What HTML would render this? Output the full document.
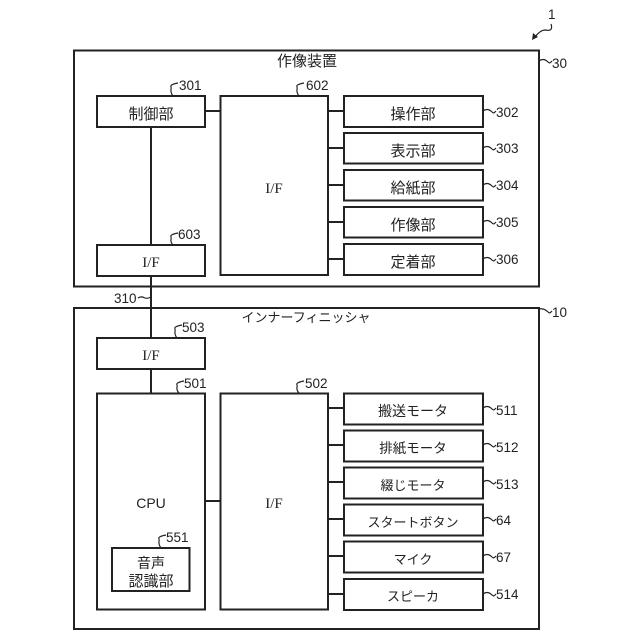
<!DOCTYPE html>
<html><head><meta charset="utf-8"><style>
html,body{margin:0;padding:0;background:#fff}
svg{display:block}
text{font-family:"Liberation Sans","Noto Sans CJK JP",sans-serif;font-size:14px;fill:#222;text-anchor:middle}
.k{font-size:15px}
.s{font-size:13px}
.m{font-size:13.5px}
.f{font-family:"Liberation Serif","Noto Sans CJK JP",serif;font-size:15px}
.n{font-size:13.5px;text-anchor:start}
rect{fill:none;stroke:#222;stroke-width:2}
path{fill:none;stroke:#222;stroke-width:1.6}
.l{stroke-width:2}
.t{stroke-width:1.2}
</style></head><body>
<svg width="640" height="640" viewBox="0 0 640 640" xmlns="http://www.w3.org/2000/svg">
<rect x="74" y="50.5" width="465" height="236"/>
<rect x="74" y="308" width="465" height="321"/>
<rect x="97" y="96" width="108" height="31"/>
<rect x="97" y="245" width="108" height="31"/>
<rect x="220.5" y="96" width="107.5" height="179"/>
<rect x="344" y="96" width="139" height="31"/>
<rect x="344" y="133" width="139" height="30.5"/>
<rect x="344" y="170" width="139" height="30.5"/>
<rect x="344" y="207" width="139" height="30.5"/>
<rect x="344" y="244" width="139" height="31"/>
<rect x="97" y="338" width="108" height="31"/>
<rect x="97" y="393.5" width="108" height="216"/>
<rect x="112" y="548" width="77.5" height="43"/>
<rect x="220.5" y="393.5" width="107.5" height="216"/>
<rect x="344" y="393.5" width="139" height="31"/>
<rect x="344" y="430.5" width="139" height="31"/>
<rect x="344" y="467.5" width="139" height="31"/>
<rect x="344" y="504.5" width="139" height="31"/>
<rect x="344" y="541.5" width="139" height="31"/>
<rect x="344" y="579" width="139" height="31"/>
<path class="l" d="M151 127V245M151 276V338M151 369V393.5M205 111H220.5M205 501H220.5M328 111H344M328 148H344M328 185H344M328 222H344M328 259H344M328 408H344M328 445H344M328 482H344M328 519H344M328 556H344M328 594H344"/>
<path class="t" d="M173 96C169 91 172 88 171 87C170 85 173 84 178 83"/>
<path class="t" d="M299 96C295 91 298 88 297 87C296 85 299 84 304 83"/>
<path class="t" d="M173 245C169 241 172 238 171 237C170 235 173 234 178 233"/>
<path class="t" d="M177 338C173 333 176 330 175 329C174 327 177 326 182 325"/>
<path class="t" d="M179 393C175 389 178 386 177 385C176 383 179 382 184 381"/>
<path class="t" d="M299 393C295 389 298 386 297 385C296 383 299 382 304 381"/>
<path class="t" d="M161 548C157 543 160 540 159 539C158 537 161 536 166 535"/>
<path class="t" d="M483 111C487 108 490 110 492 112C494 114 495 112 496 111"/>
<path class="t" d="M483 148C487 145 490 147 492 149C494 151 495 149 496 148"/>
<path class="t" d="M483 185C487 182 490 184 492 186C494 188 495 186 496 185"/>
<path class="t" d="M483 222C487 219 490 221 492 223C494 225 495 223 496 222"/>
<path class="t" d="M483 259C487 256 490 258 492 260C494 262 495 260 496 259"/>
<path class="t" d="M483 408C487 405 490 407 492 409C494 411 495 409 496 408"/>
<path class="t" d="M483 445C487 442 490 444 492 446C494 448 495 446 496 445"/>
<path class="t" d="M483 482C487 479 490 481 492 483C494 485 495 483 496 482"/>
<path class="t" d="M483 519C487 516 490 518 492 520C494 522 495 520 496 519"/>
<path class="t" d="M483 556C487 553 490 555 492 557C494 559 495 557 496 556"/>
<path class="t" d="M483 594C487 591 490 593 492 595C494 597 495 595 496 594"/>
<path class="t" d="M539 61C543 58 546 60 548 62C550 64 551 62 552 61"/>
<path class="t" d="M539 309C543 308 546 310 548 312C550 314 551 312 552 311"/>
<path class="t" d="M138 298C141 296 143 297 145 298C147 299 149 298 151 297"/>
<path class="t" d="M551 24C553 30 550 31 545 30C541 30 538 33 535 37"/>
<path d="M532 40L533 33L538 37Z" style="fill:#222;stroke:none"/>
<text class="k" x="307" y="66">作像装置</text>
<text class="k" x="151" y="119">制御部</text>
<text class="f" x="274" y="193">I/F</text>
<text class="f" x="151" y="267">I/F</text>
<text class="k" x="413" y="119">操作部</text>
<text class="k" x="413" y="156">表示部</text>
<text class="k" x="413" y="193">給紙部</text>
<text class="k" x="413" y="230">作像部</text>
<text class="k" x="413" y="267">定着部</text>
<text class="s" x="306" y="322">インナーフィニッシャ</text>
<text class="f" x="151" y="360">I/F</text>
<text x="151" y="508">CPU</text>
<text class="f" x="274" y="508">I/F</text>
<text x="151" y="568">音声</text>
<text class="k" x="151" y="586">認識部</text>
<text x="413" y="416">搬送モータ</text>
<text class="m" x="413" y="453">排紙モータ</text>
<text class="s" x="413" y="490">綴じモータ</text>
<text class="s" x="413" y="527">スタートボタン</text>
<text class="s" x="413" y="564">マイク</text>
<text class="s" x="413" y="601">スピーカ</text>
<text class="n" x="179" y="90">301</text>
<text class="n" x="306" y="90">602</text>
<text class="n" x="178" y="239">603</text>
<text class="n" x="182" y="332">503</text>
<text class="n" x="184" y="388">501</text>
<text class="n" x="305" y="388">502</text>
<text class="n" x="166" y="542">551</text>
<text class="n" x="496" y="117">302</text>
<text class="n" x="496" y="153">303</text>
<text class="n" x="496" y="190">304</text>
<text class="n" x="496" y="227">305</text>
<text class="n" x="496" y="264">306</text>
<text class="n" x="496" y="415">511</text>
<text class="n" x="496" y="452">512</text>
<text class="n" x="496" y="489">513</text>
<text class="n" x="496" y="525">64</text>
<text class="n" x="496" y="562">67</text>
<text class="n" x="496" y="599">514</text>
<text class="n" x="552" y="68">30</text>
<text class="n" x="552" y="317">10</text>
<text class="n" x="114" y="303">310</text>
<text class="n" x="548" y="19">1</text>
</svg>
</body></html>
